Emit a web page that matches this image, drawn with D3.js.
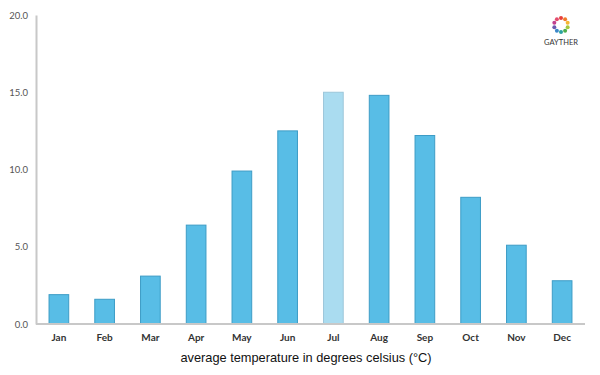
<!DOCTYPE html>
<html><head><meta charset="utf-8">
<script src="https://cdn.jsdelivr.net/npm/d3@7"></script>
<style>body{margin:0;background:#fff}svg{display:block}</style>
</head><body>
<svg id="c" width="600" height="375"></svg>
<script>
const months = ["Jan","Feb","Mar","Apr","May","Jun","Jul","Aug","Sep","Oct","Nov","Dec"];
const temps = [1.9,1.6,3.1,6.4,9.9,12.5,15.0,14.8,12.2,8.2,5.1,2.8];
const yTicks = [0,5,10,15,20];
const highlight = "Jul";
const title = "average temperature in degrees celsius (°C)";
const logoText = "GAYTHER";
const logoColors = ["#e8403a","#f07a2a","#f5b731","#a6c83a","#4cae4c","#2aa3a0","#3a87c8","#6a5bb0","#c0408f","#e34c6e"];

const svg = d3.select("#c");
const m = {l:36, r:15, t:15, b:51};
const W = 600, H = 375;
const x = d3.scaleBand().domain(months).range([m.l, W-m.r]).paddingInner(0.57).paddingOuter(0.285);
const y = d3.scaleLinear().domain([0,20]).range([H-m.b, m.t]);

svg.selectAll("rect.bar").data(months).join("rect")
  .attr("class","bar")
  .attr("x", d=>x(d)).attr("width", x.bandwidth())
  .attr("y", (d,i)=>y(temps[i])).attr("height", (d,i)=>y(0)-y(temps[i]))
  .attr("fill", d=> d===highlight ? "#aadcf0" : "#58bde6")
  .attr("stroke", d=> d===highlight ? "#9cc6da" : "#3d9cc6")
  .attr("stroke-width", 1);

// y axis
const ya = svg.append("g").attr("transform",`translate(${m.l},0)`)
  .call(d3.axisLeft(y).tickValues(yTicks).tickFormat(d3.format(".1f")).tickSize(0).tickPadding(8));
ya.select(".domain").attr("stroke","#c8c8c8").attr("stroke-width",2);
ya.selectAll("text").attr("font-family","Lato, 'DejaVu Sans', sans-serif").attr("font-size",9.5).attr("fill","#555");

// x axis
const xa = svg.append("g").attr("transform",`translate(0,${y(0)})`)
  .call(d3.axisBottom(x).tickSize(0).tickPadding(10));
xa.select(".domain").attr("stroke","#c8c8c8").attr("stroke-width",2).attr("d",`M${m.l},0H${W-m.r}`);
xa.selectAll("text").attr("font-family","Lato, 'DejaVu Sans', sans-serif").attr("font-size",10).attr("font-weight","bold").attr("fill","#333");

svg.append("text").attr("x",306).attr("y",362).attr("text-anchor","middle")
  .attr("font-family","'Liberation Sans', Arial, sans-serif").attr("font-size",12.8).attr("fill","#111").text(title);

// logo
const lg = svg.append("g").attr("transform","translate(561,25)");
lg.selectAll("circle").data(logoColors).join("circle")
  .attr("cx",(d,i)=>7*Math.cos(i/logoColors.length*2*Math.PI - Math.PI/2))
  .attr("cy",(d,i)=>7*Math.sin(i/logoColors.length*2*Math.PI - Math.PI/2))
  .attr("r",2).attr("fill",d=>d);
svg.append("text").attr("x",561).attr("y",45).attr("text-anchor","middle")
  .attr("font-family","Lato, 'DejaVu Sans', sans-serif").attr("font-size",7.5).attr("fill","#333").text(logoText);
</script>
</body></html>
